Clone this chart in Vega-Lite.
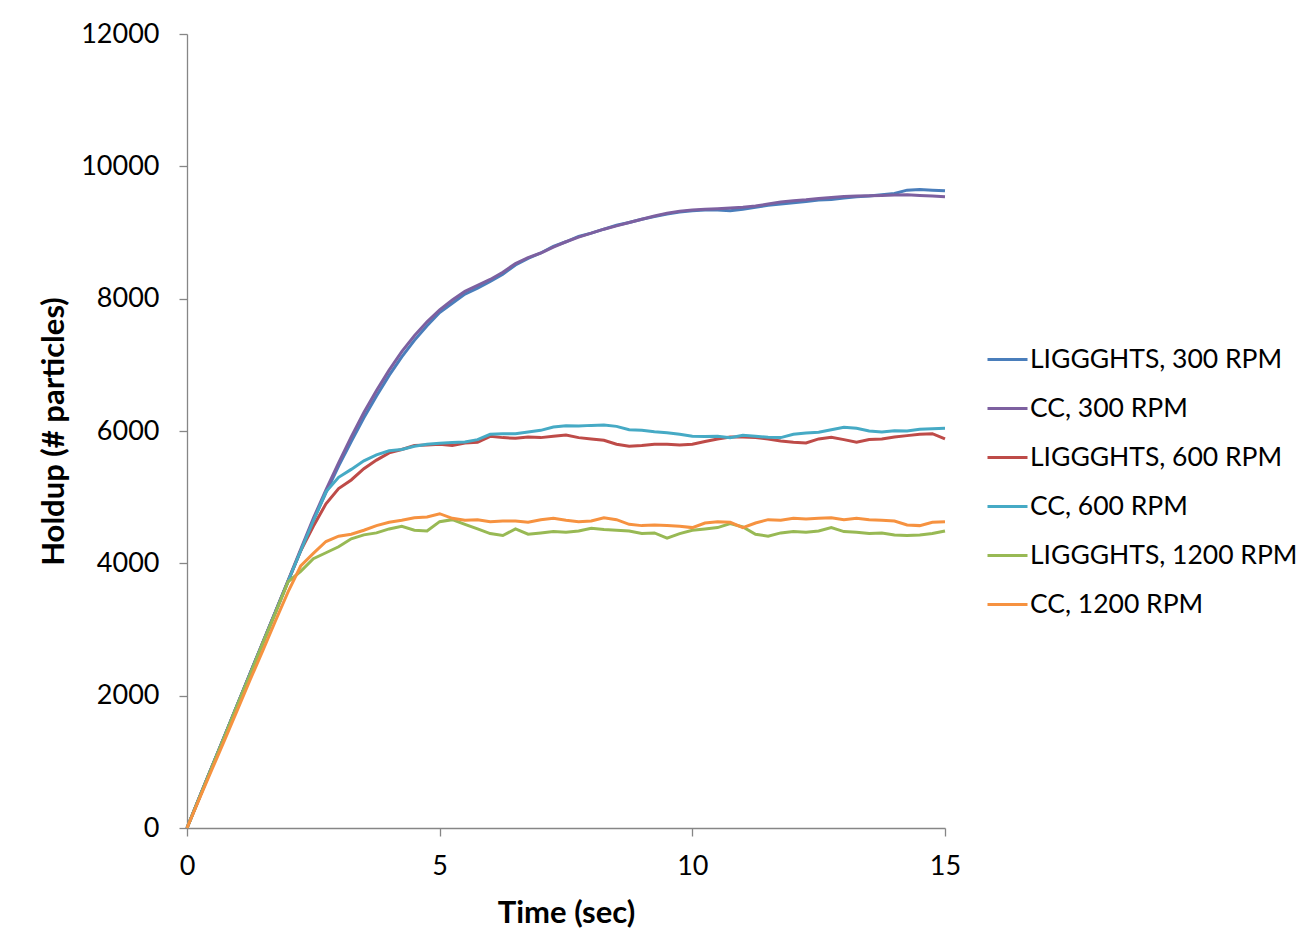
{
"$schema": "https://vega.github.io/schema/vega-lite/v6.json",
"width": 758, "height": 794,
"padding": {"left": 38, "top": 20, "right": 0, "bottom": 10},
"background": "white",
"config": {"view": {"stroke": null}, "font": "Lato",
 "axis": {"domainColor": "#868686", "tickColor": "#868686", "tickSize": 8, "domainWidth": 1.3, "tickWidth": 1.3, "labelFontSize": 27, "labelColor": "black", "titleFontSize": 31, "titleFontWeight": "bold", "titleColor": "black", "grid": false, "labelFont": "Lato", "titleFont": "Lato"}},
"data": {"values": [
{"t":0,"series":"LIGGGHTS, 300 RPM","v":0},{"t":0.25,"series":"LIGGGHTS, 300 RPM","v":470},{"t":0.5,"series":"LIGGGHTS, 300 RPM","v":935},{"t":0.75,"series":"LIGGGHTS, 300 RPM","v":1400},{"t":1,"series":"LIGGGHTS, 300 RPM","v":1870},{"t":1.25,"series":"LIGGGHTS, 300 RPM","v":2335},{"t":1.5,"series":"LIGGGHTS, 300 RPM","v":2800},{"t":1.75,"series":"LIGGGHTS, 300 RPM","v":3265},{"t":2,"series":"LIGGGHTS, 300 RPM","v":3730},{"t":2.25,"series":"LIGGGHTS, 300 RPM","v":4190},{"t":2.5,"series":"LIGGGHTS, 300 RPM","v":4650},{"t":2.75,"series":"LIGGGHTS, 300 RPM","v":5070},{"t":3,"series":"LIGGGHTS, 300 RPM","v":5470},{"t":3.25,"series":"LIGGGHTS, 300 RPM","v":5840},{"t":3.5,"series":"LIGGGHTS, 300 RPM","v":6200},{"t":3.75,"series":"LIGGGHTS, 300 RPM","v":6530},{"t":4,"series":"LIGGGHTS, 300 RPM","v":6840},{"t":4.25,"series":"LIGGGHTS, 300 RPM","v":7120},{"t":4.5,"series":"LIGGGHTS, 300 RPM","v":7370},{"t":4.75,"series":"LIGGGHTS, 300 RPM","v":7590},{"t":5,"series":"LIGGGHTS, 300 RPM","v":7790},{"t":5.25,"series":"LIGGGHTS, 300 RPM","v":7930},{"t":5.5,"series":"LIGGGHTS, 300 RPM","v":8070},{"t":5.75,"series":"LIGGGHTS, 300 RPM","v":8160},{"t":6,"series":"LIGGGHTS, 300 RPM","v":8260},{"t":6.25,"series":"LIGGGHTS, 300 RPM","v":8370},{"t":6.5,"series":"LIGGGHTS, 300 RPM","v":8510},{"t":6.75,"series":"LIGGGHTS, 300 RPM","v":8610},{"t":7,"series":"LIGGGHTS, 300 RPM","v":8690},{"t":7.25,"series":"LIGGGHTS, 300 RPM","v":8790},{"t":7.5,"series":"LIGGGHTS, 300 RPM","v":8860},{"t":7.75,"series":"LIGGGHTS, 300 RPM","v":8940},{"t":8,"series":"LIGGGHTS, 300 RPM","v":8990},{"t":8.25,"series":"LIGGGHTS, 300 RPM","v":9050},{"t":8.5,"series":"LIGGGHTS, 300 RPM","v":9110},{"t":8.75,"series":"LIGGGHTS, 300 RPM","v":9150},{"t":9,"series":"LIGGGHTS, 300 RPM","v":9200},{"t":9.25,"series":"LIGGGHTS, 300 RPM","v":9240},{"t":9.5,"series":"LIGGGHTS, 300 RPM","v":9280},{"t":9.75,"series":"LIGGGHTS, 300 RPM","v":9310},{"t":10,"series":"LIGGGHTS, 300 RPM","v":9330},{"t":10.25,"series":"LIGGGHTS, 300 RPM","v":9340},{"t":10.5,"series":"LIGGGHTS, 300 RPM","v":9340},{"t":10.75,"series":"LIGGGHTS, 300 RPM","v":9330},{"t":11,"series":"LIGGGHTS, 300 RPM","v":9350},{"t":11.25,"series":"LIGGGHTS, 300 RPM","v":9380},{"t":11.5,"series":"LIGGGHTS, 300 RPM","v":9410},{"t":11.75,"series":"LIGGGHTS, 300 RPM","v":9430},{"t":12,"series":"LIGGGHTS, 300 RPM","v":9450},{"t":12.25,"series":"LIGGGHTS, 300 RPM","v":9470},{"t":12.5,"series":"LIGGGHTS, 300 RPM","v":9490},{"t":12.75,"series":"LIGGGHTS, 300 RPM","v":9500},{"t":13,"series":"LIGGGHTS, 300 RPM","v":9520},{"t":13.25,"series":"LIGGGHTS, 300 RPM","v":9540},{"t":13.5,"series":"LIGGGHTS, 300 RPM","v":9550},{"t":13.75,"series":"LIGGGHTS, 300 RPM","v":9570},{"t":14,"series":"LIGGGHTS, 300 RPM","v":9590},{"t":14.25,"series":"LIGGGHTS, 300 RPM","v":9640},{"t":14.5,"series":"LIGGGHTS, 300 RPM","v":9650},{"t":14.75,"series":"LIGGGHTS, 300 RPM","v":9640},{"t":15,"series":"LIGGGHTS, 300 RPM","v":9630},
{"t":0,"series":"CC, 300 RPM","v":0},{"t":0.25,"series":"CC, 300 RPM","v":470},{"t":0.5,"series":"CC, 300 RPM","v":940},{"t":0.75,"series":"CC, 300 RPM","v":1400},{"t":1,"series":"CC, 300 RPM","v":1870},{"t":1.25,"series":"CC, 300 RPM","v":2340},{"t":1.5,"series":"CC, 300 RPM","v":2805},{"t":1.75,"series":"CC, 300 RPM","v":3270},{"t":2,"series":"CC, 300 RPM","v":3740},{"t":2.25,"series":"CC, 300 RPM","v":4210},{"t":2.5,"series":"CC, 300 RPM","v":4680},{"t":2.75,"series":"CC, 300 RPM","v":5110},{"t":3,"series":"CC, 300 RPM","v":5520},{"t":3.25,"series":"CC, 300 RPM","v":5910},{"t":3.5,"series":"CC, 300 RPM","v":6280},{"t":3.75,"series":"CC, 300 RPM","v":6610},{"t":4,"series":"CC, 300 RPM","v":6920},{"t":4.25,"series":"CC, 300 RPM","v":7200},{"t":4.5,"series":"CC, 300 RPM","v":7440},{"t":4.75,"series":"CC, 300 RPM","v":7650},{"t":5,"series":"CC, 300 RPM","v":7830},{"t":5.25,"series":"CC, 300 RPM","v":7980},{"t":5.5,"series":"CC, 300 RPM","v":8110},{"t":5.75,"series":"CC, 300 RPM","v":8200},{"t":6,"series":"CC, 300 RPM","v":8290},{"t":6.25,"series":"CC, 300 RPM","v":8400},{"t":6.5,"series":"CC, 300 RPM","v":8530},{"t":6.75,"series":"CC, 300 RPM","v":8620},{"t":7,"series":"CC, 300 RPM","v":8690},{"t":7.25,"series":"CC, 300 RPM","v":8780},{"t":7.5,"series":"CC, 300 RPM","v":8860},{"t":7.75,"series":"CC, 300 RPM","v":8930},{"t":8,"series":"CC, 300 RPM","v":8990},{"t":8.25,"series":"CC, 300 RPM","v":9050},{"t":8.5,"series":"CC, 300 RPM","v":9100},{"t":8.75,"series":"CC, 300 RPM","v":9150},{"t":9,"series":"CC, 300 RPM","v":9200},{"t":9.25,"series":"CC, 300 RPM","v":9250},{"t":9.5,"series":"CC, 300 RPM","v":9290},{"t":9.75,"series":"CC, 300 RPM","v":9320},{"t":10,"series":"CC, 300 RPM","v":9340},{"t":10.25,"series":"CC, 300 RPM","v":9350},{"t":10.5,"series":"CC, 300 RPM","v":9360},{"t":10.75,"series":"CC, 300 RPM","v":9370},{"t":11,"series":"CC, 300 RPM","v":9380},{"t":11.25,"series":"CC, 300 RPM","v":9400},{"t":11.5,"series":"CC, 300 RPM","v":9430},{"t":11.75,"series":"CC, 300 RPM","v":9460},{"t":12,"series":"CC, 300 RPM","v":9480},{"t":12.25,"series":"CC, 300 RPM","v":9495},{"t":12.5,"series":"CC, 300 RPM","v":9515},{"t":12.75,"series":"CC, 300 RPM","v":9530},{"t":13,"series":"CC, 300 RPM","v":9545},{"t":13.25,"series":"CC, 300 RPM","v":9550},{"t":13.5,"series":"CC, 300 RPM","v":9555},{"t":13.75,"series":"CC, 300 RPM","v":9560},{"t":14,"series":"CC, 300 RPM","v":9565},{"t":14.25,"series":"CC, 300 RPM","v":9570},{"t":14.5,"series":"CC, 300 RPM","v":9560},{"t":14.75,"series":"CC, 300 RPM","v":9550},{"t":15,"series":"CC, 300 RPM","v":9540},
{"t":0,"series":"LIGGGHTS, 600 RPM","v":0},{"t":0.25,"series":"LIGGGHTS, 600 RPM","v":470},{"t":0.5,"series":"LIGGGHTS, 600 RPM","v":935},{"t":0.75,"series":"LIGGGHTS, 600 RPM","v":1400},{"t":1,"series":"LIGGGHTS, 600 RPM","v":1870},{"t":1.25,"series":"LIGGGHTS, 600 RPM","v":2335},{"t":1.5,"series":"LIGGGHTS, 600 RPM","v":2800},{"t":1.75,"series":"LIGGGHTS, 600 RPM","v":3265},{"t":2,"series":"LIGGGHTS, 600 RPM","v":3730},{"t":2.25,"series":"LIGGGHTS, 600 RPM","v":4190},{"t":2.5,"series":"LIGGGHTS, 600 RPM","v":4560},{"t":2.75,"series":"LIGGGHTS, 600 RPM","v":4900},{"t":3,"series":"LIGGGHTS, 600 RPM","v":5130},{"t":3.25,"series":"LIGGGHTS, 600 RPM","v":5260},{"t":3.5,"series":"LIGGGHTS, 600 RPM","v":5430},{"t":3.75,"series":"LIGGGHTS, 600 RPM","v":5560},{"t":4,"series":"LIGGGHTS, 600 RPM","v":5670},{"t":4.25,"series":"LIGGGHTS, 600 RPM","v":5720},{"t":4.5,"series":"LIGGGHTS, 600 RPM","v":5780},{"t":4.75,"series":"LIGGGHTS, 600 RPM","v":5790},{"t":5,"series":"LIGGGHTS, 600 RPM","v":5800},{"t":5.25,"series":"LIGGGHTS, 600 RPM","v":5780},{"t":5.5,"series":"LIGGGHTS, 600 RPM","v":5820},{"t":5.75,"series":"LIGGGHTS, 600 RPM","v":5830},{"t":6,"series":"LIGGGHTS, 600 RPM","v":5920},{"t":6.25,"series":"LIGGGHTS, 600 RPM","v":5900},{"t":6.5,"series":"LIGGGHTS, 600 RPM","v":5890},{"t":6.75,"series":"LIGGGHTS, 600 RPM","v":5910},{"t":7,"series":"LIGGGHTS, 600 RPM","v":5900},{"t":7.25,"series":"LIGGGHTS, 600 RPM","v":5920},{"t":7.5,"series":"LIGGGHTS, 600 RPM","v":5940},{"t":7.75,"series":"LIGGGHTS, 600 RPM","v":5900},{"t":8,"series":"LIGGGHTS, 600 RPM","v":5880},{"t":8.25,"series":"LIGGGHTS, 600 RPM","v":5860},{"t":8.5,"series":"LIGGGHTS, 600 RPM","v":5800},{"t":8.75,"series":"LIGGGHTS, 600 RPM","v":5770},{"t":9,"series":"LIGGGHTS, 600 RPM","v":5780},{"t":9.25,"series":"LIGGGHTS, 600 RPM","v":5800},{"t":9.5,"series":"LIGGGHTS, 600 RPM","v":5800},{"t":9.75,"series":"LIGGGHTS, 600 RPM","v":5790},{"t":10,"series":"LIGGGHTS, 600 RPM","v":5800},{"t":10.25,"series":"LIGGGHTS, 600 RPM","v":5840},{"t":10.5,"series":"LIGGGHTS, 600 RPM","v":5880},{"t":10.75,"series":"LIGGGHTS, 600 RPM","v":5910},{"t":11,"series":"LIGGGHTS, 600 RPM","v":5910},{"t":11.25,"series":"LIGGGHTS, 600 RPM","v":5900},{"t":11.5,"series":"LIGGGHTS, 600 RPM","v":5880},{"t":11.75,"series":"LIGGGHTS, 600 RPM","v":5850},{"t":12,"series":"LIGGGHTS, 600 RPM","v":5830},{"t":12.25,"series":"LIGGGHTS, 600 RPM","v":5820},{"t":12.5,"series":"LIGGGHTS, 600 RPM","v":5880},{"t":12.75,"series":"LIGGGHTS, 600 RPM","v":5905},{"t":13,"series":"LIGGGHTS, 600 RPM","v":5870},{"t":13.25,"series":"LIGGGHTS, 600 RPM","v":5830},{"t":13.5,"series":"LIGGGHTS, 600 RPM","v":5870},{"t":13.75,"series":"LIGGGHTS, 600 RPM","v":5880},{"t":14,"series":"LIGGGHTS, 600 RPM","v":5910},{"t":14.25,"series":"LIGGGHTS, 600 RPM","v":5930},{"t":14.5,"series":"LIGGGHTS, 600 RPM","v":5950},{"t":14.75,"series":"LIGGGHTS, 600 RPM","v":5960},{"t":15,"series":"LIGGGHTS, 600 RPM","v":5880},
{"t":0,"series":"CC, 600 RPM","v":0},{"t":0.25,"series":"CC, 600 RPM","v":470},{"t":0.5,"series":"CC, 600 RPM","v":935},{"t":0.75,"series":"CC, 600 RPM","v":1400},{"t":1,"series":"CC, 600 RPM","v":1870},{"t":1.25,"series":"CC, 600 RPM","v":2335},{"t":1.5,"series":"CC, 600 RPM","v":2800},{"t":1.75,"series":"CC, 600 RPM","v":3265},{"t":2,"series":"CC, 600 RPM","v":3730},{"t":2.25,"series":"CC, 600 RPM","v":4190},{"t":2.5,"series":"CC, 600 RPM","v":4640},{"t":2.75,"series":"CC, 600 RPM","v":5080},{"t":3,"series":"CC, 600 RPM","v":5300},{"t":3.25,"series":"CC, 600 RPM","v":5420},{"t":3.5,"series":"CC, 600 RPM","v":5550},{"t":3.75,"series":"CC, 600 RPM","v":5640},{"t":4,"series":"CC, 600 RPM","v":5700},{"t":4.25,"series":"CC, 600 RPM","v":5720},{"t":4.5,"series":"CC, 600 RPM","v":5770},{"t":4.75,"series":"CC, 600 RPM","v":5800},{"t":5,"series":"CC, 600 RPM","v":5815},{"t":5.25,"series":"CC, 600 RPM","v":5825},{"t":5.5,"series":"CC, 600 RPM","v":5835},{"t":5.75,"series":"CC, 600 RPM","v":5870},{"t":6,"series":"CC, 600 RPM","v":5950},{"t":6.25,"series":"CC, 600 RPM","v":5960},{"t":6.5,"series":"CC, 600 RPM","v":5960},{"t":6.75,"series":"CC, 600 RPM","v":5985},{"t":7,"series":"CC, 600 RPM","v":6010},{"t":7.25,"series":"CC, 600 RPM","v":6060},{"t":7.5,"series":"CC, 600 RPM","v":6080},{"t":7.75,"series":"CC, 600 RPM","v":6075},{"t":8,"series":"CC, 600 RPM","v":6085},{"t":8.25,"series":"CC, 600 RPM","v":6090},{"t":8.5,"series":"CC, 600 RPM","v":6070},{"t":8.75,"series":"CC, 600 RPM","v":6020},{"t":9,"series":"CC, 600 RPM","v":6010},{"t":9.25,"series":"CC, 600 RPM","v":5990},{"t":9.5,"series":"CC, 600 RPM","v":5975},{"t":9.75,"series":"CC, 600 RPM","v":5950},{"t":10,"series":"CC, 600 RPM","v":5920},{"t":10.25,"series":"CC, 600 RPM","v":5915},{"t":10.5,"series":"CC, 600 RPM","v":5920},{"t":10.75,"series":"CC, 600 RPM","v":5900},{"t":11,"series":"CC, 600 RPM","v":5935},{"t":11.25,"series":"CC, 600 RPM","v":5920},{"t":11.5,"series":"CC, 600 RPM","v":5905},{"t":11.75,"series":"CC, 600 RPM","v":5900},{"t":12,"series":"CC, 600 RPM","v":5950},{"t":12.25,"series":"CC, 600 RPM","v":5970},{"t":12.5,"series":"CC, 600 RPM","v":5980},{"t":12.75,"series":"CC, 600 RPM","v":6020},{"t":13,"series":"CC, 600 RPM","v":6055},{"t":13.25,"series":"CC, 600 RPM","v":6040},{"t":13.5,"series":"CC, 600 RPM","v":6000},{"t":13.75,"series":"CC, 600 RPM","v":5985},{"t":14,"series":"CC, 600 RPM","v":6005},{"t":14.25,"series":"CC, 600 RPM","v":6000},{"t":14.5,"series":"CC, 600 RPM","v":6025},{"t":14.75,"series":"CC, 600 RPM","v":6035},{"t":15,"series":"CC, 600 RPM","v":6040},
{"t":0,"series":"LIGGGHTS, 1200 RPM","v":0},{"t":0.25,"series":"LIGGGHTS, 1200 RPM","v":465},{"t":0.5,"series":"LIGGGHTS, 1200 RPM","v":930},{"t":0.75,"series":"LIGGGHTS, 1200 RPM","v":1390},{"t":1,"series":"LIGGGHTS, 1200 RPM","v":1860},{"t":1.25,"series":"LIGGGHTS, 1200 RPM","v":2320},{"t":1.5,"series":"LIGGGHTS, 1200 RPM","v":2790},{"t":1.75,"series":"LIGGGHTS, 1200 RPM","v":3250},{"t":2,"series":"LIGGGHTS, 1200 RPM","v":3720},{"t":2.25,"series":"LIGGGHTS, 1200 RPM","v":3880},{"t":2.5,"series":"LIGGGHTS, 1200 RPM","v":4070},{"t":2.75,"series":"LIGGGHTS, 1200 RPM","v":4160},{"t":3,"series":"LIGGGHTS, 1200 RPM","v":4250},{"t":3.25,"series":"LIGGGHTS, 1200 RPM","v":4370},{"t":3.5,"series":"LIGGGHTS, 1200 RPM","v":4430},{"t":3.75,"series":"LIGGGHTS, 1200 RPM","v":4460},{"t":4,"series":"LIGGGHTS, 1200 RPM","v":4520},{"t":4.25,"series":"LIGGGHTS, 1200 RPM","v":4560},{"t":4.5,"series":"LIGGGHTS, 1200 RPM","v":4500},{"t":4.75,"series":"LIGGGHTS, 1200 RPM","v":4490},{"t":5,"series":"LIGGGHTS, 1200 RPM","v":4630},{"t":5.25,"series":"LIGGGHTS, 1200 RPM","v":4660},{"t":5.5,"series":"LIGGGHTS, 1200 RPM","v":4590},{"t":5.75,"series":"LIGGGHTS, 1200 RPM","v":4520},{"t":6,"series":"LIGGGHTS, 1200 RPM","v":4450},{"t":6.25,"series":"LIGGGHTS, 1200 RPM","v":4420},{"t":6.5,"series":"LIGGGHTS, 1200 RPM","v":4520},{"t":6.75,"series":"LIGGGHTS, 1200 RPM","v":4440},{"t":7,"series":"LIGGGHTS, 1200 RPM","v":4460},{"t":7.25,"series":"LIGGGHTS, 1200 RPM","v":4480},{"t":7.5,"series":"LIGGGHTS, 1200 RPM","v":4470},{"t":7.75,"series":"LIGGGHTS, 1200 RPM","v":4490},{"t":8,"series":"LIGGGHTS, 1200 RPM","v":4530},{"t":8.25,"series":"LIGGGHTS, 1200 RPM","v":4510},{"t":8.5,"series":"LIGGGHTS, 1200 RPM","v":4500},{"t":8.75,"series":"LIGGGHTS, 1200 RPM","v":4490},{"t":9,"series":"LIGGGHTS, 1200 RPM","v":4450},{"t":9.25,"series":"LIGGGHTS, 1200 RPM","v":4460},{"t":9.5,"series":"LIGGGHTS, 1200 RPM","v":4380},{"t":9.75,"series":"LIGGGHTS, 1200 RPM","v":4450},{"t":10,"series":"LIGGGHTS, 1200 RPM","v":4500},{"t":10.25,"series":"LIGGGHTS, 1200 RPM","v":4520},{"t":10.5,"series":"LIGGGHTS, 1200 RPM","v":4540},{"t":10.75,"series":"LIGGGHTS, 1200 RPM","v":4600},{"t":11,"series":"LIGGGHTS, 1200 RPM","v":4550},{"t":11.25,"series":"LIGGGHTS, 1200 RPM","v":4440},{"t":11.5,"series":"LIGGGHTS, 1200 RPM","v":4410},{"t":11.75,"series":"LIGGGHTS, 1200 RPM","v":4460},{"t":12,"series":"LIGGGHTS, 1200 RPM","v":4480},{"t":12.25,"series":"LIGGGHTS, 1200 RPM","v":4470},{"t":12.5,"series":"LIGGGHTS, 1200 RPM","v":4490},{"t":12.75,"series":"LIGGGHTS, 1200 RPM","v":4540},{"t":13,"series":"LIGGGHTS, 1200 RPM","v":4480},{"t":13.25,"series":"LIGGGHTS, 1200 RPM","v":4470},{"t":13.5,"series":"LIGGGHTS, 1200 RPM","v":4450},{"t":13.75,"series":"LIGGGHTS, 1200 RPM","v":4460},{"t":14,"series":"LIGGGHTS, 1200 RPM","v":4430},{"t":14.25,"series":"LIGGGHTS, 1200 RPM","v":4420},{"t":14.5,"series":"LIGGGHTS, 1200 RPM","v":4430},{"t":14.75,"series":"LIGGGHTS, 1200 RPM","v":4450},{"t":15,"series":"LIGGGHTS, 1200 RPM","v":4490},
{"t":0,"series":"CC, 1200 RPM","v":0},{"t":0.25,"series":"CC, 1200 RPM","v":450},{"t":0.5,"series":"CC, 1200 RPM","v":895},{"t":0.75,"series":"CC, 1200 RPM","v":1340},{"t":1,"series":"CC, 1200 RPM","v":1790},{"t":1.25,"series":"CC, 1200 RPM","v":2240},{"t":1.5,"series":"CC, 1200 RPM","v":2680},{"t":1.75,"series":"CC, 1200 RPM","v":3130},{"t":2,"series":"CC, 1200 RPM","v":3570},{"t":2.25,"series":"CC, 1200 RPM","v":3960},{"t":2.5,"series":"CC, 1200 RPM","v":4150},{"t":2.75,"series":"CC, 1200 RPM","v":4330},{"t":3,"series":"CC, 1200 RPM","v":4410},{"t":3.25,"series":"CC, 1200 RPM","v":4440},{"t":3.5,"series":"CC, 1200 RPM","v":4500},{"t":3.75,"series":"CC, 1200 RPM","v":4570},{"t":4,"series":"CC, 1200 RPM","v":4620},{"t":4.25,"series":"CC, 1200 RPM","v":4650},{"t":4.5,"series":"CC, 1200 RPM","v":4690},{"t":4.75,"series":"CC, 1200 RPM","v":4700},{"t":5,"series":"CC, 1200 RPM","v":4750},{"t":5.25,"series":"CC, 1200 RPM","v":4680},{"t":5.5,"series":"CC, 1200 RPM","v":4650},{"t":5.75,"series":"CC, 1200 RPM","v":4660},{"t":6,"series":"CC, 1200 RPM","v":4630},{"t":6.25,"series":"CC, 1200 RPM","v":4640},{"t":6.5,"series":"CC, 1200 RPM","v":4640},{"t":6.75,"series":"CC, 1200 RPM","v":4620},{"t":7,"series":"CC, 1200 RPM","v":4660},{"t":7.25,"series":"CC, 1200 RPM","v":4680},{"t":7.5,"series":"CC, 1200 RPM","v":4650},{"t":7.75,"series":"CC, 1200 RPM","v":4630},{"t":8,"series":"CC, 1200 RPM","v":4640},{"t":8.25,"series":"CC, 1200 RPM","v":4690},{"t":8.5,"series":"CC, 1200 RPM","v":4660},{"t":8.75,"series":"CC, 1200 RPM","v":4590},{"t":9,"series":"CC, 1200 RPM","v":4570},{"t":9.25,"series":"CC, 1200 RPM","v":4580},{"t":9.5,"series":"CC, 1200 RPM","v":4570},{"t":9.75,"series":"CC, 1200 RPM","v":4560},{"t":10,"series":"CC, 1200 RPM","v":4540},{"t":10.25,"series":"CC, 1200 RPM","v":4610},{"t":10.5,"series":"CC, 1200 RPM","v":4630},{"t":10.75,"series":"CC, 1200 RPM","v":4620},{"t":11,"series":"CC, 1200 RPM","v":4540},{"t":11.25,"series":"CC, 1200 RPM","v":4610},{"t":11.5,"series":"CC, 1200 RPM","v":4660},{"t":11.75,"series":"CC, 1200 RPM","v":4650},{"t":12,"series":"CC, 1200 RPM","v":4680},{"t":12.25,"series":"CC, 1200 RPM","v":4670},{"t":12.5,"series":"CC, 1200 RPM","v":4680},{"t":12.75,"series":"CC, 1200 RPM","v":4690},{"t":13,"series":"CC, 1200 RPM","v":4660},{"t":13.25,"series":"CC, 1200 RPM","v":4680},{"t":13.5,"series":"CC, 1200 RPM","v":4660},{"t":13.75,"series":"CC, 1200 RPM","v":4650},{"t":14,"series":"CC, 1200 RPM","v":4640},{"t":14.25,"series":"CC, 1200 RPM","v":4580},{"t":14.5,"series":"CC, 1200 RPM","v":4570},{"t":14.75,"series":"CC, 1200 RPM","v":4620},{"t":15,"series":"CC, 1200 RPM","v":4630}
]},
"mark": {"type": "line", "strokeWidth": 3},
"encoding": {
 "x": {"field": "t", "type": "quantitative", "scale": {"domain": [0, 15], "nice": false}, "axis": {"values": [0, 5, 10, 15], "title": "Time (sec)", "labelPadding": 17, "titlePadding": 19, "labelFlush": false}},
 "y": {"field": "v", "type": "quantitative", "scale": {"domain": [0, 12000], "nice": false}, "axis": {"values": [0, 2000, 4000, 6000, 8000, 10000, 12000], "format": "d", "title": "Holdup (# particles)", "labelPadding": 20, "titlePadding": 10}},
 "color": {"field": "series", "type": "nominal",
  "scale": {"domain": ["LIGGGHTS, 300 RPM", "CC, 300 RPM", "LIGGGHTS, 600 RPM", "CC, 600 RPM", "LIGGGHTS, 1200 RPM", "CC, 1200 RPM"], "range": ["#4A7EBB", "#7D60A0", "#BE4B48", "#46AAC5", "#98B954", "#F69240"]},
  "legend": {"title": null, "orient": "none", "legendX": 799, "legendY": 304, "symbolType": "stroke", "symbolSize": 1600, "symbolStrokeWidth": 3, "labelFontSize": 26.5, "labelFont": "Lato", "labelColor": "black", "rowPadding": 14, "labelOffset": 1, "labelLimit": 400}}
}
}
